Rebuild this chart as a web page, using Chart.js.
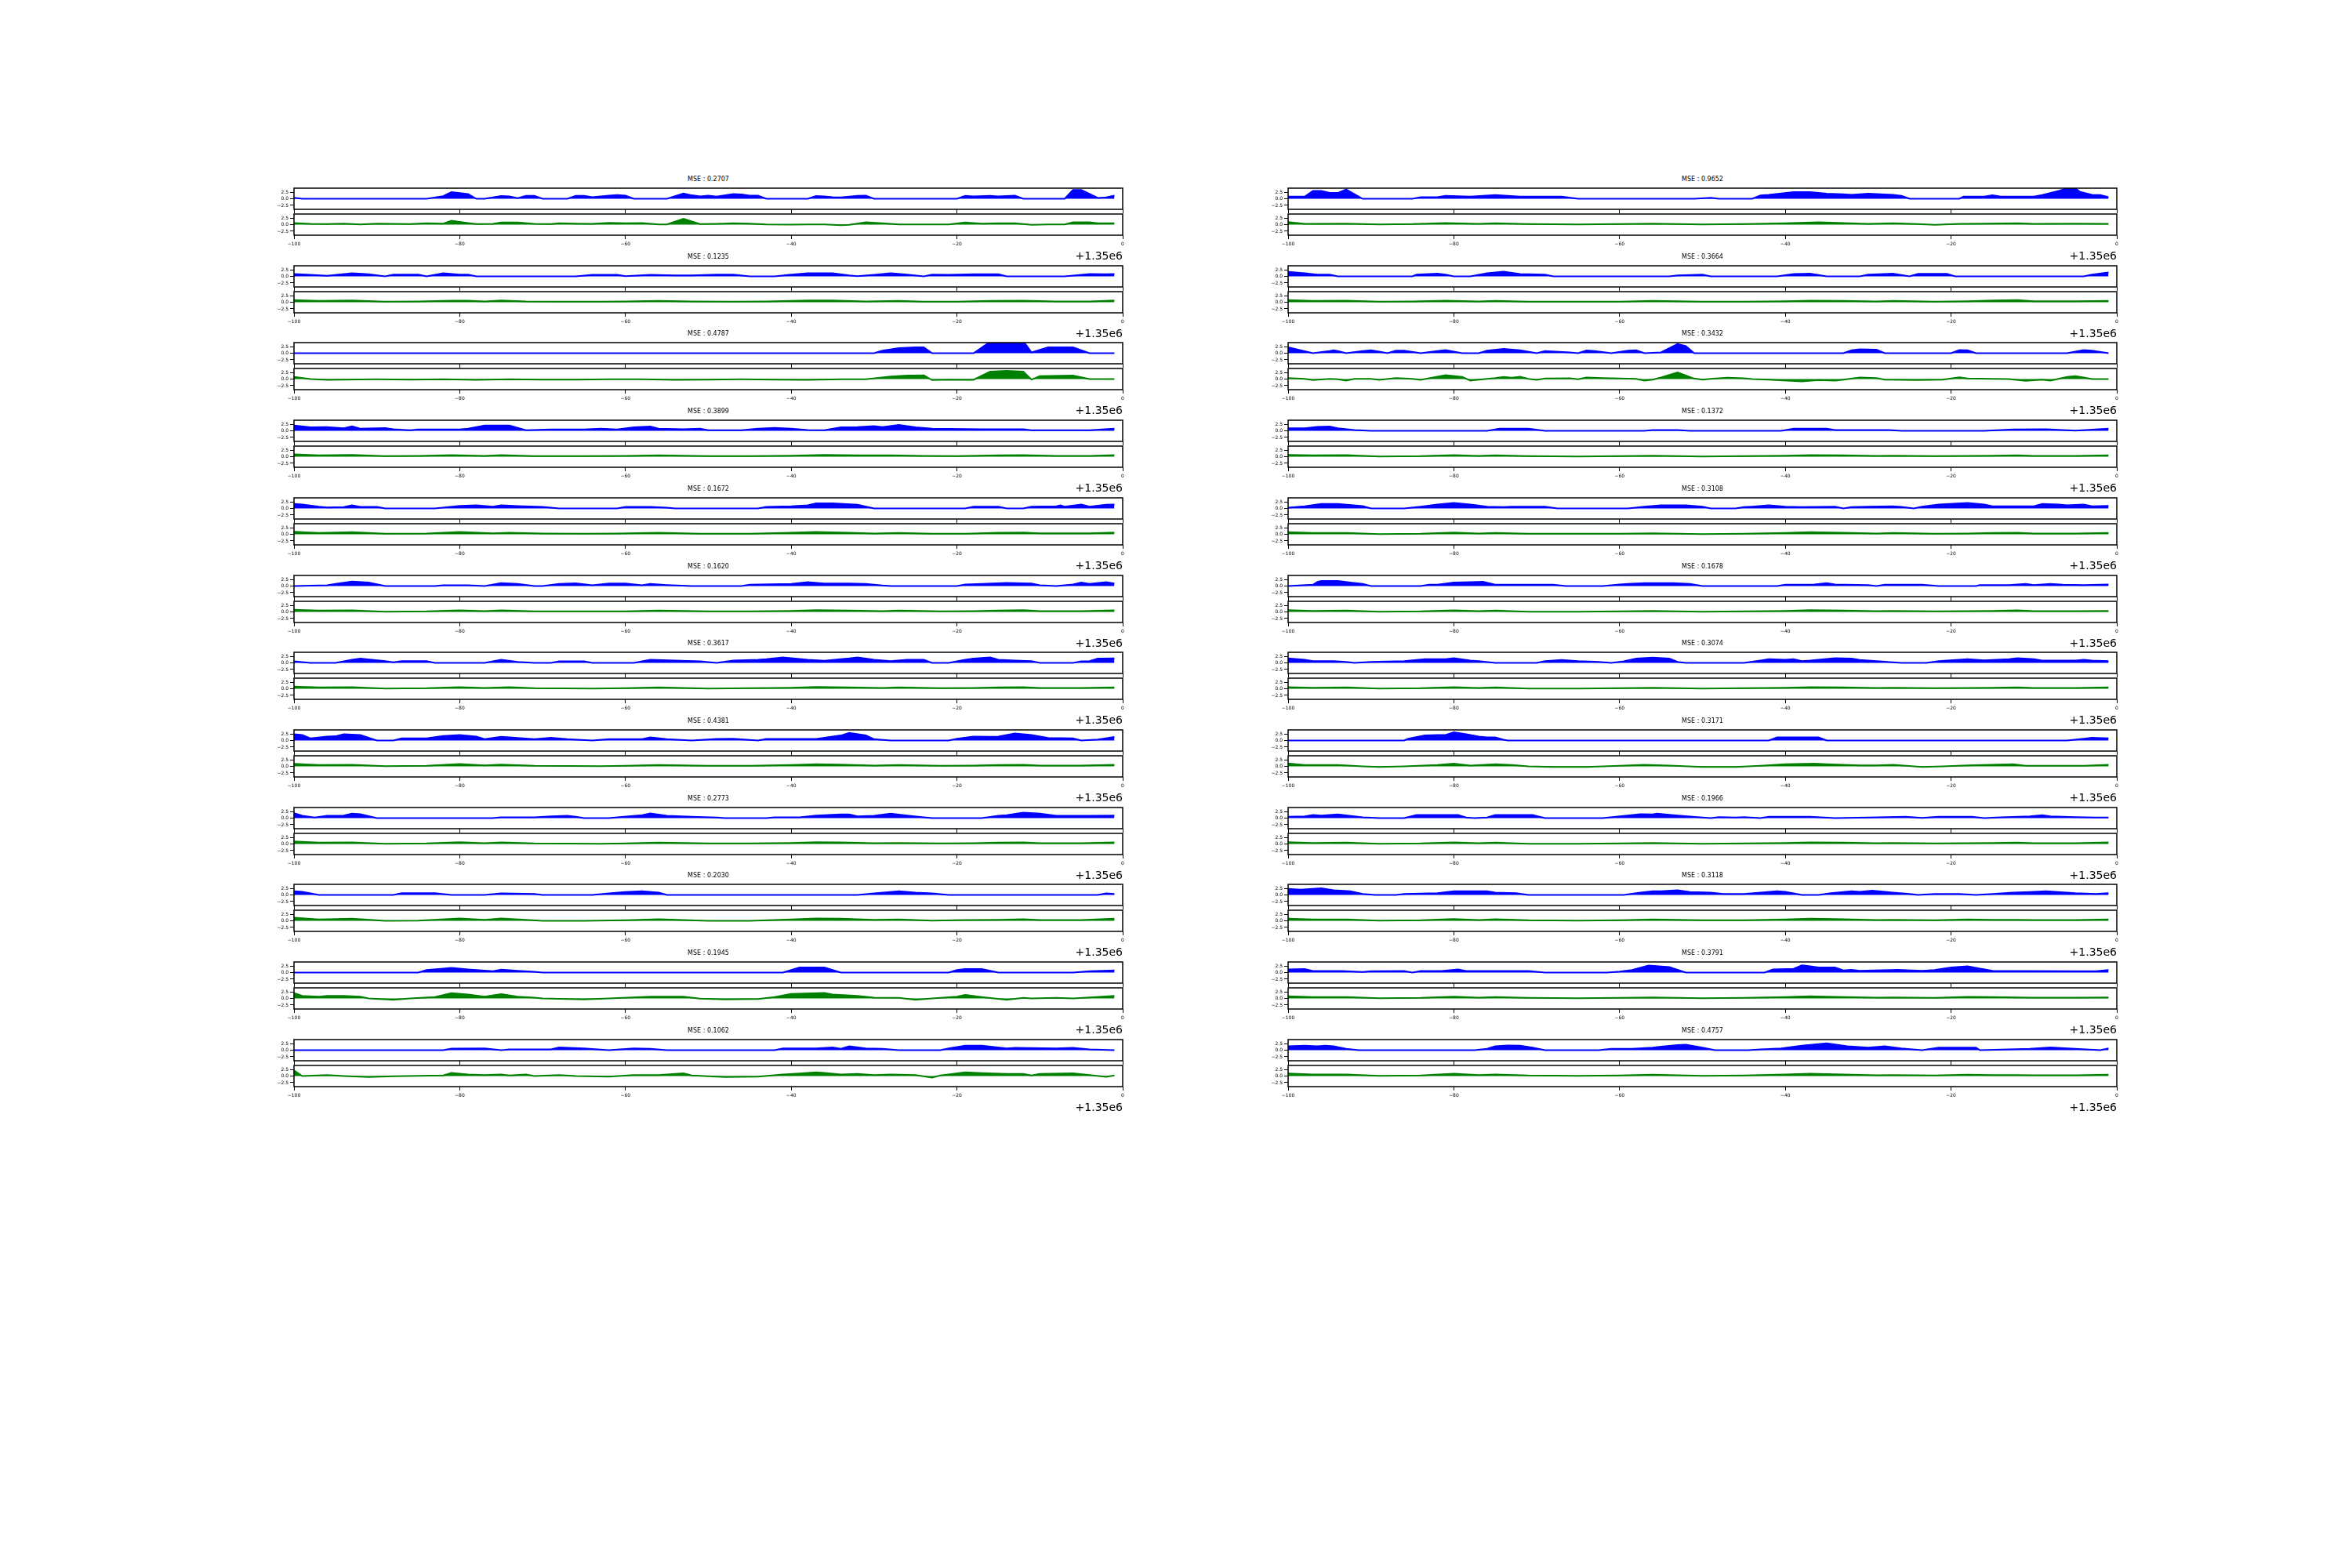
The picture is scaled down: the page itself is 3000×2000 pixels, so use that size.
<!DOCTYPE html>
<html><head><meta charset="utf-8">
<script src="https://cdn.jsdelivr.net/npm/chart.js@4.4.1/dist/chart.umd.min.js"></script>
<style>
html,body{margin:0;padding:0;background:#fff;}
#fig{position:relative;width:3000px;height:2000px;overflow:hidden;background:#fff;}
#fig canvas{position:absolute;}
.ttl{position:absolute;font-family:'DejaVu Sans';font-size:8px;line-height:1;color:#000;transform:translate(-50%,-50%);white-space:nowrap;}
.off{position:absolute;font-family:'DejaVu Sans';font-size:14px;line-height:1;color:#000;transform:translate(-100%,-50%);white-space:nowrap;}
</style></head><body><div id="fig"></div>
<script>
// ---------------- data ----------------
const xTickValues = [-100, -80, -60, -40, -20, 0];
const yTickValues = [-2.5, 0, 2.5];
const mseLeft  = ['0.2707','0.1235','0.4787','0.3899','0.1672','0.1620','0.3617','0.4381','0.2773','0.2030','0.1945','0.1062'];
const mseRight = ['0.9652','0.3664','0.3432','0.1372','0.3108','0.1678','0.3074','0.3171','0.1966','0.3118','0.3791','0.4757'];
const offsetLabel = '+1.35e6';

// left column, blue (top) series: [x, y]
const blueL1 = [[-100,0.4],[-99,0],[-84,0],[-82,1.0],[-81,2.5],[-79,1.8],[-78,0],[-77,0],[-75,1.0],[-74,0.9],[-73,0.2],[-72,1.1],[-71,1.1],[-70,0],[-67,0],[-66,1.1],[-65,1.1],[-64,0.6],[-62,1.2],[-61,1.4],[-60,1.2],[-59,0],[-55,0],[-53,2.0],[-52,1.3],[-51,0.9],[-50,1.2],[-49,0.8],[-47,1.8],[-46,1.6],[-45,1.2],[-44,1.2],[-43,0],[-38,0],[-37,1.0],[-36,0.9],[-35,0.6],[-34,0.5],[-32,1.1],[-31,1.2],[-30,0],[-20,0],[-19,1.1],[-18,0.9],[-16,1.1],[-15,0.9],[-13,1.2],[-12,0],[-7,0],[-6,3.3],[-5,3.3],[-3,0.3],[-2,0.5],[-1,1.2]];
const blueL2 = [[-100,0.9],[-98,0.6],[-96,0.2],[-93,1.2],[-91,0.8],[-89,0],[-88,0.7],[-85,0.7],[-84,0],[-82,1.2],[-80,0.7],[-79,0.7],[-78,0],[-66,0],[-64,0.6],[-61,0.6],[-60,0.1],[-57,0.6],[-54,0.4],[-52,0.4],[-49,0.7],[-47,0.7],[-45,0],[-42,0],[-40,0.7],[-38,1.2],[-35,1.2],[-33,0.4],[-32,0.1],[-30,0.6],[-28,1.2],[-26,0.7],[-24,0],[-23,0.7],[-21,0.6],[-18,0.8],[-17,0.8],[-15,0.8],[-14,0],[-7,0],[-5,0.6],[-4,0.9],[-2,0.8],[-1,0.9]];
const blueL3 = [[-100,0],[-30,0],[-29,1.0],[-27,1.9],[-25,2.2],[-24,2.2],[-23,0],[-18,0],[-16,4.3],[-14,5.0],[-12,4.6],[-11,0.3],[-9,2.2],[-6,2.2],[-4,0],[-1,0]];
const blueL4 = [[-100,2.0],[-98,1.3],[-96,1.4],[-94,1.0],[-93,1.7],[-92,0.8],[-89,1.0],[-88,0.6],[-86,0.2],[-85,0.5],[-80,0.5],[-79,0.8],[-77,2.0],[-74,2.0],[-72,0.2],[-69,0.5],[-65,0.5],[-63,0.8],[-61,0.5],[-59,1.3],[-57,1.6],[-56,0.8],[-53,0.6],[-51,0.8],[-50,0.2],[-46,0.2],[-44,0.8],[-42,1.1],[-40,0.8],[-38,0.3],[-36,0.2],[-34,1.3],[-32,1.4],[-30,1.8],[-29,1.4],[-27,2.2],[-25,1.3],[-23,0.8],[-17,0.6],[-12,0.6],[-11,0.2],[-4,0.2],[-1,0.8]];
const blueL5 = [[-100,1.7],[-99,1.5],[-97,0.7],[-96,0.4],[-94,0.5],[-93,1.2],[-92,0.6],[-90,0.6],[-89,0],[-83,0],[-80,1.0],[-78,1.2],[-76,0.7],[-75,1.2],[-73,0.9],[-70,0.6],[-69,0.3],[-68,0],[-61,0],[-60,0.6],[-57,0.6],[-55,0.3],[-54,0],[-44,0],[-43,0.6],[-40,0.8],[-38,1.2],[-37,1.9],[-35,1.9],[-32,1.4],[-30,0],[-19,0],[-18,0.7],[-15,0.7],[-14,0],[-12,0],[-11,0.7],[-8,0.8],[-7.5,1.2],[-7,0.7],[-5,1.5],[-4,0.7],[-2,1.4],[-1,1.5]];
const blueL6 = [[-100,0],[-96,0.3],[-95,0.8],[-93,1.7],[-91,1.3],[-89,0],[-83,0],[-82,0.3],[-79,0.3],[-77,0],[-75,1.1],[-73,0.8],[-71,0],[-70,0],[-68,0.8],[-66,1.0],[-64,0.3],[-62,1.0],[-60,1.0],[-58,0.3],[-57,0.8],[-55,0.4],[-52,0],[-46,0],[-45,0.5],[-40,0.8],[-38,1.5],[-36,1.0],[-33,1.0],[-31,0.8],[-29,0.2],[-28,0],[-20,0],[-19,0.6],[-17,0.8],[-14,1.2],[-11,1.0],[-10,0.3],[-8,0],[-6,0.6],[-5,1.3],[-4,0.8],[-2,1.5],[-1,1.0]];
const blueL7 = [[-100,0.6],[-98,0],[-95,0],[-93,1.2],[-92,1.6],[-89,0.7],[-88,0.2],[-87,0.7],[-84,0.7],[-83,0],[-77,0],[-75,1.2],[-73,0.4],[-71,0],[-69,0],[-68,0.6],[-65,0.6],[-64,0],[-59,0],[-57,1.2],[-54,0.9],[-51,0.6],[-49,0],[-47,0.9],[-44,1.2],[-43,1.4],[-41,2.1],[-38,1.2],[-36,0.8],[-33,1.7],[-32,2.1],[-30,1.2],[-28,0.7],[-26,1.2],[-24,1.2],[-23,0],[-21,0],[-19,1.2],[-18,1.6],[-16,2.1],[-15,1.2],[-13,0.9],[-11,0.7],[-10,0],[-6,0],[-5,0.6],[-4,0.7],[-3,1.6],[-1,1.7]];
const blueL8 = [[-100,2.4],[-99,2.1],[-98,0.8],[-96,1.5],[-95,1.6],[-94,2.4],[-92,2.1],[-90,0],[-88,0],[-87,0.8],[-84,0.8],[-82,1.7],[-80,2.1],[-78,1.5],[-77,0.5],[-75,1.4],[-73,1.0],[-71,0.5],[-69,1.0],[-67,0.5],[-64,0],[-62,0.5],[-58,0.5],[-57,1.2],[-55,0.5],[-52,0],[-49,0.6],[-47,0.7],[-44,0],[-43,0.6],[-37,0.6],[-34,1.9],[-33,2.9],[-31,1.9],[-30,0.5],[-28,0],[-21,0],[-20,0.7],[-18,1.5],[-16,1.4],[-15,1.5],[-13,2.7],[-11,2.1],[-9,1.0],[-6,0.8],[-5,0],[-3,0.4],[-1,1.3]];
const blueL9 = [[-100,1.9],[-99,0.9],[-97.5,0.2],[-96,0.9],[-94,1.0],[-93,1.7],[-92,1.5],[-90,0],[-76,0],[-75,0.3],[-71,0.3],[-69,0.7],[-67,0.9],[-66,0.5],[-65,0],[-62,0],[-61,0.3],[-58,1.1],[-57,1.8],[-55,0.9],[-52,0.5],[-49,0.2],[-48,0],[-43,0],[-42,0.3],[-39,0.3],[-37,1.0],[-34,1.4],[-33,1.4],[-32,0.7],[-30,0.9],[-28,1.7],[-26,1.0],[-24,0.3],[-23,0],[-17,0],[-15,0.9],[-14,1.1],[-12,2.1],[-10,1.7],[-8,0.9],[-4,0.9],[-1,1.0]];
const blueL10 = [[-100,1.4],[-99,1.2],[-97,0],[-88,0],[-87,0.7],[-83,0.7],[-81,0],[-77,0],[-75,0.6],[-71,0.4],[-70,0],[-64,0],[-62,0.6],[-60,1.1],[-58,1.4],[-56,0.9],[-55,0],[-32,0],[-30,0.6],[-27,1.4],[-25,0.9],[-23,0.6],[-21,0],[-3,0],[-2,0.6],[-1,0.4]];
const blueL11 = [[-100,0],[-85,0],[-84,1.0],[-82,1.5],[-81,1.8],[-79,1.2],[-76,0.5],[-75,1.1],[-73,0.7],[-71,0.3],[-70,0],[-41,0],[-40,1.0],[-39,1.9],[-36,1.9],[-34,0],[-21,0],[-20,1.0],[-19,1.3],[-17,1.3],[-16,0.7],[-15,0],[-6,0],[-4,0.5],[-1,0.8]];
const blueL12 = [[-100,0],[-82,0],[-81,0.6],[-77,0.7],[-75,0],[-74,0.3],[-69,0.3],[-68,1.0],[-65,0.7],[-62,0],[-59,0.7],[-57,0.5],[-55,0],[-42,0],[-41,0.7],[-37,0.7],[-35,1.0],[-34,0.5],[-33,1.5],[-31,0.7],[-29,0.5],[-27,0],[-22,0],[-21,0.7],[-19,1.7],[-17,1.7],[-14,0.7],[-13,0.9],[-8,0.7],[-6,0.9],[-4,0.3],[-1,0]];

// left column, green (bottom) series
const greenL1 = [[-100,0.6],[-98,0.3],[-96,0.2],[-94,0.4],[-92,0.1],[-90,0.4],[-88,0.3],[-86,0.2],[-84,0.5],[-82,0.4],[-81,1.5],[-79,0.6],[-78,0.2],[-76,0.3],[-75,0.8],[-73,0.8],[-71,0.3],[-69,0.2],[-68,0.5],[-66,0.4],[-64,0.3],[-62,0.7],[-60,0.5],[-58,0.6],[-56,0.1],[-55,0.1],[-53,2.2],[-51,0.2],[-49,0.3],[-47,0.5],[-45,0.4],[-43,0.1],[-40,0.0],[-38,0.1],[-36,0.1],[-34,-0.2],[-33,-0.1],[-31,0.9],[-29,0.5],[-27,0.1],[-23,0.1],[-21,0.1],[-19,0.8],[-17,0.4],[-15,0.5],[-13,0.5],[-11,-0.1],[-9,0.1],[-7,0.1],[-6,0.9],[-4,0.9],[-3,0.5],[-1,0.5]];
const greenL2 = [[-100,0.8],[-97,0.5],[-93,0.7],[-89,0.2],[-85,0.3],[-81,0.6],[-79,0.6],[-77,0.3],[-75,0.7],[-72,0.3],[-68,0.2],[-63,0.2],[-60,0.3],[-56,0.5],[-52,0.3],[-47,0.2],[-43,0.3],[-38,0.7],[-35,0.7],[-31,0.3],[-27,0.5],[-24,0.2],[-20,0.2],[-16,0.5],[-12,0.6],[-8,0.3],[-4,0.3],[-1,0.7]];
const greenL3 = [[-100,0.8],[-98,0.0],[-96,-0.3],[-94,-0.2],[-90,-0.1],[-86,-0.2],[-82,-0.1],[-78,-0.3],[-74,-0.1],[-70,-0.2],[-66,-0.2],[-62,-0.1],[-58,-0.1],[-54,-0.3],[-50,-0.2],[-46,-0.1],[-42,-0.2],[-38,-0.3],[-34,-0.1],[-31,-0.1],[-28,1.0],[-26,1.3],[-24,1.4],[-23,-0.4],[-21,-0.2],[-18,-0.3],[-16,2.8],[-14,3.1],[-12,2.8],[-11,-0.2],[-10,1.1],[-6,1.3],[-4,0.0],[-1,0.0]];
const greenL4 = [[-100,0.9],[-97,0.5],[-93,0.7],[-89,0.2],[-85,0.3],[-81,0.6],[-77,0.3],[-75,0.6],[-71,0.2],[-65,0.2],[-60,0.3],[-56,0.5],[-50,0.2],[-45,0.2],[-40,0.4],[-36,0.7],[-32,0.5],[-28,0.5],[-24,0.3],[-20,0.2],[-15,0.5],[-12,0.6],[-8,0.3],[-4,0.3],[-1,0.6]];
const greenL5 = [[-100,1.0],[-97,0.5],[-93,0.8],[-89,0.2],[-84,0.3],[-80,0.9],[-76,0.4],[-74,0.6],[-70,0.3],[-65,0.2],[-61,0.3],[-56,0.6],[-51,0.2],[-45,0.2],[-41,0.5],[-37,0.9],[-33,0.6],[-30,0.3],[-27,0.5],[-23,0.2],[-19,0.2],[-15,0.6],[-12,0.7],[-10,0.4],[-4,0.4],[-1,0.7]];
const greenL6 = [[-100,0.8],[-97,0.5],[-93,0.6],[-89,0.1],[-84,0.2],[-80,0.6],[-77,0.3],[-75,0.6],[-71,0.2],[-63,0.2],[-60,0.2],[-56,0.5],[-50,0.2],[-45,0.2],[-40,0.4],[-37,0.7],[-33,0.5],[-29,0.3],[-27,0.5],[-22,0.2],[-18,0.3],[-15,0.5],[-12,0.7],[-10,0.3],[-5,0.3],[-1,0.6]];
const greenL7 = [[-100,0.8],[-97,0.5],[-93,0.6],[-89,0.1],[-84,0.2],[-80,0.6],[-77,0.3],[-74,0.6],[-71,0.2],[-64,0.1],[-60,0.2],[-56,0.5],[-50,0.1],[-45,0.2],[-40,0.4],[-37,0.7],[-33,0.5],[-29,0.3],[-27,0.5],[-22,0.2],[-18,0.3],[-15,0.5],[-12,0.6],[-10,0.3],[-5,0.3],[-1,0.5]];
const greenL8 = [[-100,1.0],[-97,0.5],[-93,0.6],[-89,0.1],[-84,0.2],[-80,0.9],[-77,0.4],[-75,0.7],[-71,0.2],[-63,0.1],[-60,0.2],[-56,0.5],[-50,0.2],[-45,0.2],[-40,0.5],[-37,0.8],[-34,0.7],[-30,0.3],[-27,0.5],[-22,0.2],[-18,0.3],[-15,0.5],[-12,0.6],[-10,0.3],[-5,0.3],[-1,0.6]];
const greenL9 = [[-100,1.0],[-97,0.5],[-93,0.6],[-89,0.1],[-84,0.2],[-80,0.7],[-77,0.3],[-75,0.6],[-71,0.2],[-63,0.1],[-60,0.2],[-56,0.5],[-50,0.2],[-45,0.2],[-40,0.4],[-37,0.7],[-34,0.6],[-30,0.3],[-27,0.4],[-22,0.2],[-18,0.3],[-15,0.5],[-12,0.6],[-10,0.3],[-5,0.3],[-1,0.6]];
const greenL10 = [[-100,1.2],[-97,0.5],[-93,0.8],[-89,0.0],[-85,0.1],[-80,0.9],[-77,0.4],[-75,0.9],[-72,0.4],[-70,0.0],[-65,0.0],[-60,0.2],[-56,0.6],[-50,0.0],[-45,0.0],[-40,0.5],[-37,0.9],[-34,0.8],[-30,0.4],[-27,0.5],[-23,0.1],[-19,0.3],[-15,0.4],[-12,0.6],[-10,0.3],[-5,0.3],[-1,0.8]];
const greenL11 = [[-100,2.0],[-99,1.0],[-97,0.7],[-96,1.0],[-94,1.0],[-92,0.7],[-91,0],[-88,-0.5],[-86,0],[-83,0.5],[-81,2.0],[-79,1.5],[-77,0.7],[-75,1.6],[-73,0.7],[-71,0.3],[-70,0],[-65,-0.4],[-62,0],[-57,0.7],[-53,0.7],[-51,-0.1],[-48,-0.4],[-44,-0.2],[-42,0.5],[-40,1.7],[-36,2.1],[-35,1.5],[-32,1.0],[-30,0.3],[-27,0.2],[-25,-0.5],[-23,0],[-20,0.7],[-19,1.3],[-17,0.5],[-14,-0.5],[-12,0.2],[-11,0],[-8,0.2],[-6,0],[-4,0.4],[-1,1.0]];
const greenL12 = [[-100,2.1],[-99,0],[-96,0.4],[-94,0],[-91,-0.4],[-88,-0.1],[-82,0.2],[-81,1.2],[-79,0.6],[-77,0.4],[-75,0.6],[-74,0.2],[-72,0.6],[-71,0],[-68,0.4],[-66,0],[-62,-0.2],[-59,0.4],[-56,0.4],[-53,1.0],[-52,0.2],[-48,-0.4],[-44,-0.2],[-41,0.6],[-39,1.0],[-37,1.4],[-36,1.2],[-34,0.6],[-32,0.8],[-30,0.4],[-28,0.6],[-25,0.4],[-23,-0.6],[-22,0.2],[-19,1.4],[-17,1.1],[-14,0.8],[-12,0.8],[-11,0.2],[-10,0.8],[-6,1.0],[-4,0.4],[-2,-0.3],[-1,0.2]];

// right column, blue (top) series
const blueR1 = [[-100,0.8],[-98,0.8],[-97,3.0],[-96,3.0],[-95,2.2],[-94,2.2],[-93,3.5],[-91,0],[-85,0],[-84,0.6],[-82,0.6],[-81,1.1],[-78,0.8],[-75,1.4],[-72,0.8],[-67,0.8],[-65,0],[-51,0],[-49,0.4],[-48,0],[-44,0],[-43,1.3],[-42,1.5],[-39,2.5],[-37,2.5],[-35,1.9],[-33,1.7],[-32,1.5],[-30,1.9],[-27,1.5],[-26,1.1],[-25,0],[-19,0],[-18.5,0.8],[-16,0.8],[-15,1.3],[-14,0.8],[-10,0.8],[-9,1.4],[-7,3.0],[-6,4.0],[-5,4.0],[-4.5,2.7],[-3,1.5],[-2,1.4],[-1,0.6]];
const blueR2 = [[-100,1.7],[-98,1.2],[-96.5,0.7],[-95,0.7],[-94,0],[-85,0],[-84.5,0.7],[-82,1.0],[-81,0.7],[-80,0],[-78,0],[-76,1.2],[-74,1.8],[-72,0.9],[-69,0.7],[-68,0],[-54,0],[-53,0.4],[-50,0.7],[-49,0],[-41,0],[-39,0.9],[-37,1.0],[-35,0],[-31,0],[-30,0.7],[-27,1.0],[-25,0],[-24,1.0],[-20.5,1.0],[-19.5,0],[-4,0],[-3,0.7],[-1,1.5]];
const blueR3 = [[-100,2.2],[-99,1.5],[-97,0],[-95,0.8],[-94.5,1.1],[-94,0.8],[-93,0],[-91,0.8],[-90,1.1],[-89,0.6],[-88,0],[-87,1.0],[-86,1.0],[-84,0],[-82,0.8],[-81,1.2],[-79,0],[-77,0],[-76,1.0],[-74,1.6],[-72,1.1],[-70,0],[-69,0.8],[-66,0.3],[-65,0],[-64,1.0],[-63,0.8],[-61,0],[-59,1.0],[-58,1.1],[-57,0],[-55,0.3],[-53.5,2.7],[-53,3.5],[-52,2.7],[-51,0],[-33,0],[-32,1.1],[-31,1.5],[-29,1.3],[-28,0],[-20,0],[-19,1.2],[-18,1.1],[-17,0],[-6,0],[-4,1.2],[-3,1.0],[-1,0]];
const blueR4 = [[-100,1.0],[-98,1.0],[-96.5,1.5],[-95,1.6],[-94,1.0],[-92,0.3],[-90,0],[-76,0],[-74.5,0.8],[-71,0.8],[-69,0],[-57,0],[-56,0.3],[-53,0.3],[-51.5,0],[-40.5,0],[-39,0.8],[-35,0.8],[-34,0.3],[-27.5,0.3],[-26,0],[-16,0],[-12.5,0.5],[-8.5,0.6],[-5,0.1],[-1,0.8]];
const blueR5 = [[-100,0.3],[-98,0.8],[-96,1.7],[-94,1.7],[-91,0.9],[-90,0],[-86,0],[-84,0.7],[-82,1.5],[-80,2.1],[-78,1.5],[-76,0.7],[-74,0.5],[-73,0.7],[-69,0.7],[-67.5,0],[-59,0],[-57,0.7],[-55,1.2],[-52,1.2],[-50,0.7],[-49,0],[-46,0],[-45,0.5],[-44,0.7],[-42,1.2],[-40,0.7],[-38,0.5],[-34,0.7],[-33,0],[-32,0.5],[-30,0.7],[-27,0.8],[-26,0.6],[-24.5,0],[-23.5,0.7],[-21.5,1.5],[-18,2.1],[-16,1.5],[-15,0.8],[-10,0.8],[-9,1.7],[-7,1.5],[-6,1.2],[-4,1.5],[-3,0.8],[-1,1.0]];
const blueR6 = [[-100,0],[-97,0.5],[-96.5,1.5],[-96,1.9],[-94,1.9],[-92.5,1.3],[-91,0.8],[-90,0],[-84,0],[-83,0.5],[-82,0.5],[-80,1.3],[-78,1.5],[-76.5,1.6],[-75,0.5],[-68,0.5],[-66.5,0],[-62,0],[-60,0.6],[-59,0.8],[-57,1.1],[-53.5,1.1],[-51.5,0.8],[-50,0],[-41,0],[-40,0.5],[-36.5,0.6],[-35,1.1],[-34,0.6],[-30,0.4],[-29,0],[-28,0.5],[-23.5,0.5],[-21.5,0],[-17,0],[-16.5,0.4],[-13,0.4],[-11,0.8],[-10,0.4],[-8,0.8],[-6.5,0.5],[-4,0.4],[-1,0.6]];
const blueR7 = [[-100,1.7],[-98,1.2],[-97,0.7],[-94.5,0.7],[-93,0.4],[-92,0],[-90,0.4],[-86,0.7],[-83.5,1.4],[-81,1.4],[-80,1.8],[-78,0.9],[-77,0.7],[-75,0],[-70,0],[-69,0.7],[-67,1.1],[-65,0.7],[-62.5,0.4],[-61,0],[-59.5,0.6],[-58,1.6],[-56,2.0],[-54,1.6],[-53,0.4],[-52,0],[-45,0],[-43,0.9],[-42,1.4],[-40,1.2],[-39,1.4],[-38,0.7],[-37,0.9],[-34,1.8],[-32,1.6],[-31,1.1],[-29,0.7],[-26,0],[-23,0],[-21.5,0.7],[-18,1.4],[-16,1.0],[-13,1.4],[-12,1.8],[-10,1.4],[-9,0.9],[-5,0.9],[-4,1.2],[-3,0.9],[-1,0.7]];
const blueR8 = [[-100,0],[-86,0],[-85.5,0.7],[-83.5,1.9],[-82,2.1],[-81,2.1],[-80,3.1],[-78.5,2.4],[-77,1.5],[-76,1.2],[-75,1.2],[-74,0.3],[-73.5,0],[-42,0],[-41,1.2],[-36,1.2],[-35,0],[-6,0],[-4,0.7],[-3,1.0],[-1,0.8]];
const blueR9 = [[-100,0.5],[-98,0.7],[-97,1.2],[-96,1.0],[-94,1.4],[-92,0.7],[-91,0.3],[-89,0],[-86,0],[-84.5,1.2],[-79.5,1.2],[-78.5,0.2],[-77.5,0],[-76,0.2],[-75,1.2],[-70.5,1.2],[-69,0],[-62,0],[-60,0.7],[-57.5,1.5],[-56,1.4],[-55.5,1.7],[-53.5,1.1],[-50,0.2],[-49,0],[-48,0.4],[-46,0.2],[-45,0.4],[-43,0],[-42,0.5],[-37,0.5],[-34,0],[-30,0.2],[-25.5,0.5],[-23.5,0.1],[-21.5,0.5],[-17.5,0.5],[-16,0],[-14,0.3],[-10.5,0.7],[-9,1.1],[-8,0.7],[-5,0.4],[-2.5,0.2],[-1,0.2]];
const blueR10 = [[-100,2.3],[-98.5,2.0],[-96,2.5],[-94.5,1.8],[-92.5,1.4],[-91,0.4],[-89.5,0],[-87,0],[-86,0.4],[-82,0.7],[-80,1.4],[-76,1.4],[-75,0.9],[-72.5,0.7],[-71,0],[-59.5,0],[-57.5,0.9],[-56,1.4],[-55,1.4],[-53,1.8],[-51.5,1.1],[-49,0.9],[-47.5,0.4],[-45,0.4],[-43,0.9],[-41,1.4],[-40,1.2],[-38,0],[-36,0],[-34.5,0.7],[-32,1.4],[-31,1.2],[-29.5,1.6],[-27,0.9],[-25,0.4],[-24,0],[-22,0.4],[-19,0.4],[-17,0],[-15,0.4],[-12.5,0.9],[-10.5,1.1],[-8.5,1.4],[-5,0.7],[-2.5,0.4],[-1,0.7]];
const blueR11 = [[-100,1.2],[-98,1.3],[-97,0.6],[-93.5,0.6],[-92,0.4],[-91,0.2],[-90,0.5],[-86,0.6],[-85,0],[-84,0.6],[-81.5,0.6],[-79.5,1.2],[-78.5,0.6],[-71,0.6],[-69,0],[-61.5,0],[-60,0.4],[-58.5,1.0],[-56.5,2.7],[-54,2.1],[-52,0],[-42.5,0],[-41.5,1.2],[-39,1.4],[-38,2.7],[-37,2.4],[-36,1.9],[-34,1.9],[-33,0.8],[-32,1.0],[-31,0.7],[-26.5,1.0],[-23.5,0.7],[-22,1.0],[-20,1.9],[-18,2.4],[-16.5,1.5],[-15,0.7],[-12.5,0.6],[-5,0.5],[-2.5,0.5],[-1,1.0]];
const blueR12 = [[-100,1.5],[-98,1.7],[-96.5,1.5],[-95.5,1.7],[-94.5,1.5],[-93,0.5],[-91.5,0],[-77.5,0],[-76,0.5],[-75,1.5],[-73.5,1.8],[-72,1.7],[-70.5,1.0],[-69,0],[-62.5,0],[-61,0.5],[-58.5,0.5],[-56,1.0],[-55,1.3],[-53,1.9],[-52,2.1],[-50,1.0],[-48.5,0],[-44.5,0],[-43,0.3],[-40.5,0.7],[-38,1.7],[-35,2.6],[-32.5,1.5],[-30,1.0],[-28,1.5],[-26,0.7],[-23.5,0],[-21.5,1.0],[-17,1.0],[-16.5,0],[-10.5,0.5],[-8,1.0],[-5,0.5],[-2,0],[-1,0.7]];

// right column, green (bottom) series
const greenR1 = [[-100,1.0],[-98,0.3],[-93,0.4],[-89,0.1],[-85,0.2],[-81,0.6],[-77,0.3],[-75,0.5],[-71,0.2],[-65,0.1],[-60,0.2],[-56,0.4],[-50,0.1],[-45,0.2],[-40,0.5],[-36,0.9],[-33,0.6],[-30,0.3],[-27,0.5],[-24,0.2],[-22,-0.1],[-19,0.3],[-16,0.4],[-12,0.5],[-10,0.3],[-5,0.4],[-1,0.3]];
const greenR2 = [[-100,0.8],[-97,0.5],[-93,0.6],[-89,0.2],[-85,0.3],[-81,0.6],[-77,0.3],[-75,0.5],[-71,0.2],[-65,0.2],[-60,0.2],[-56,0.5],[-50,0.2],[-45,0.2],[-40,0.4],[-37,0.6],[-33,0.5],[-29,0.3],[-27,0.5],[-22,0.2],[-18,0.4],[-15,0.7],[-12,0.8],[-10,0.4],[-5,0.4],[-1,0.5]];
const greenR3 = [[-100,0.4],[-98,0.1],[-97,-0.4],[-95,0.1],[-94,-0.1],[-93,-0.6],[-92,0.1],[-90,0.1],[-89,-0.3],[-87,0.4],[-85,0.1],[-84,-0.3],[-82.5,0.6],[-81,1.5],[-79,0.8],[-78,-0.6],[-77,-0.2],[-75,0.4],[-74,0.8],[-73,0.5],[-72,0.9],[-71,0.1],[-70,-0.3],[-69,0.2],[-66,0.3],[-65,-0.1],[-64,0.6],[-62,0.4],[-60,0.2],[-58,0.1],[-57,-0.6],[-56,-0.2],[-55,0.6],[-53,2.5],[-51,0.2],[-50,-0.2],[-49,0.1],[-47,0.5],[-45,0.3],[-44,0],[-42,-0.2],[-38,-0.9],[-36,-0.4],[-34,-0.6],[-33,-0.2],[-31,0.6],[-29,0.4],[-28,-0.2],[-24,-0.4],[-21,-0.2],[-19,0.7],[-18,0.2],[-15,0.1],[-13,0],[-11,-0.7],[-9,-0.2],[-8,-0.6],[-6,0.8],[-5,1.1],[-4,0.6],[-3,0],[-1,0]];
const greenR4 = [[-100,0.7],[-97,0.5],[-93,0.6],[-89,0.1],[-84,0.2],[-80,0.6],[-77,0.3],[-75,0.5],[-71,0.2],[-65,0.1],[-60,0.2],[-56,0.4],[-50,0.1],[-45,0.2],[-40,0.4],[-37,0.6],[-33,0.5],[-29,0.3],[-27,0.4],[-22,0.2],[-18,0.3],[-15,0.4],[-12,0.5],[-10,0.3],[-5,0.3],[-1,0.5]];
const greenR5 = [[-100,0.8],[-97,0.5],[-93,0.5],[-89,0.1],[-84,0.2],[-80,0.7],[-77,0.3],[-75,0.5],[-71,0.2],[-65,0.2],[-60,0.2],[-56,0.4],[-50,0.1],[-45,0.2],[-40,0.5],[-37,0.8],[-33,0.6],[-29,0.3],[-27,0.5],[-22,0.2],[-18,0.3],[-15,0.5],[-12,0.6],[-10,0.3],[-5,0.3],[-1,0.5]];
const greenR6 = [[-100,0.7],[-97,0.4],[-93,0.5],[-89,0.1],[-84,0.2],[-80,0.6],[-77,0.3],[-75,0.5],[-71,0.1],[-65,0.1],[-60,0.2],[-56,0.4],[-50,0.1],[-45,0.2],[-40,0.4],[-37,0.7],[-33,0.5],[-29,0.3],[-27,0.4],[-22,0.2],[-18,0.3],[-15,0.4],[-12,0.6],[-10,0.3],[-5,0.3],[-1,0.4]];
const greenR7 = [[-100,0.6],[-97,0.4],[-93,0.5],[-89,0.1],[-84,0.2],[-80,0.6],[-77,0.3],[-75,0.5],[-71,0.1],[-65,0.1],[-60,0.2],[-56,0.4],[-50,0.1],[-45,0.2],[-40,0.4],[-37,0.6],[-33,0.5],[-29,0.3],[-27,0.4],[-22,0.2],[-18,0.3],[-15,0.4],[-12,0.5],[-10,0.3],[-5,0.3],[-1,0.5]];
const greenR8 = [[-100,1.1],[-98,0.5],[-94,0.5],[-91,0],[-89,-0.2],[-86,0],[-82,0.5],[-80,1.0],[-78,0.3],[-75,0.8],[-73,0.5],[-71,0],[-68,-0.2],[-64,-0.2],[-60,0.2],[-57,0.6],[-54,0.3],[-50,-0.2],[-46,-0.2],[-43,0.2],[-40,0.8],[-36.5,1.0],[-35,0.8],[-31,0.4],[-29,0.4],[-27,0.6],[-23.5,-0.2],[-21,0],[-18,0.4],[-12.5,0.8],[-11,0.2],[-7,0.2],[-4,0.2],[-1,0.6]];
const greenR9 = [[-100,0.7],[-97,0.4],[-93,0.5],[-89,0.1],[-84,0.2],[-80,0.6],[-77,0.3],[-75,0.5],[-71,0.1],[-65,0.1],[-60,0.2],[-56,0.4],[-50,0.1],[-45,0.2],[-40,0.4],[-37,0.6],[-33,0.5],[-29,0.3],[-27,0.4],[-22,0.2],[-18,0.3],[-15,0.4],[-12,0.5],[-10,0.3],[-5,0.3],[-1,0.6]];
const greenR10 = [[-100,0.8],[-97,0.5],[-93,0.5],[-89,0.1],[-84,0.2],[-80,0.7],[-77,0.3],[-75,0.6],[-71,0.2],[-65,0.1],[-60,0.2],[-56,0.5],[-50,0.2],[-45,0.2],[-40,0.5],[-37,0.8],[-34,0.7],[-29,0.3],[-27,0.4],[-22,0.2],[-18,0.5],[-15,0.4],[-12,0.4],[-10,0.3],[-5,0.3],[-1,0.5]];
const greenR11 = [[-100,0.8],[-97,0.5],[-93,0.5],[-89,0.1],[-84,0.2],[-80,0.7],[-77,0.3],[-75,0.5],[-71,0.2],[-65,0.1],[-60,0.2],[-56,0.4],[-50,0.1],[-45,0.2],[-40,0.5],[-37,0.8],[-34,0.6],[-29,0.3],[-27,0.4],[-22,0.2],[-18,0.6],[-15,0.5],[-12,0.4],[-10,0.3],[-5,0.3],[-1,0.4]];
const greenR12 = [[-100,1.0],[-97,0.6],[-93,0.6],[-89,0.1],[-84,0.2],[-80,0.9],[-77,0.4],[-75,0.6],[-71,0.2],[-65,0.1],[-60,0.2],[-56,0.5],[-50,0.1],[-45,0.2],[-40,0.6],[-37,0.9],[-34,0.7],[-29,0.3],[-27,0.4],[-22,0.2],[-18,0.5],[-15,0.4],[-12,0.4],[-10,0.3],[-5,0.3],[-1,0.5]];

const blueLeft  = [blueL1,blueL2,blueL3,blueL4,blueL5,blueL6,blueL7,blueL8,blueL9,blueL10,blueL11,blueL12];
const greenLeft = [greenL1,greenL2,greenL3,greenL4,greenL5,greenL6,greenL7,greenL8,greenL9,greenL10,greenL11,greenL12];
const blueRight  = [blueR1,blueR2,blueR3,blueR4,blueR5,blueR6,blueR7,blueR8,blueR9,blueR10,blueR11,blueR12];
const greenRight = [greenR1,greenR2,greenR3,greenR4,greenR5,greenR6,greenR7,greenR8,greenR9,greenR10,greenR11,greenR12];

// ---------------- layout ----------------
const fig = document.getElementById('fig');
const COLS = [{left:375, width:1057}, {left:1643, width:1057}];
const TOP0 = 240, PITCH = 98.7, AX_H = 27, GREEN_OFF = 33;
const YW = 40, PT = 6, PR = 8;
const TICK_FONT = {family:'DejaVu Sans', size:6};

const framePlugin = {
  id:'frame',
  afterDraw(chart){
    const a = chart.chartArea, c = chart.ctx;
    c.save(); c.strokeStyle = '#000'; c.lineWidth = 1.5;
    c.strokeRect(a.left, a.top, a.right - a.left, a.bottom - a.top);
    c.restore();
  }
};
const minus = s => s.replace('-', '\u2212');

function addAxes(series, color, left, top, width, height, showLabels){
  const xh = showLabels ? 24 : 6;
  const cw = YW + width + PR, ch = PT + height + xh;
  const cv = document.createElement('canvas');
  cv.width = cw; cv.height = ch;
  cv.style.left = (left - YW) + 'px'; cv.style.top = (top - PT) + 'px';
  cv.style.width = cw + 'px'; cv.style.height = ch + 'px';
  fig.appendChild(cv);
  new Chart(cv, {
    type:'line',
    data:{datasets:[{
      data: series.map(p => ({x:p[0], y:p[1]})),
      borderColor:color, backgroundColor:color, borderWidth:2,
      fill:'origin', pointRadius:0, tension:0
    }]},
    options:{
      responsive:false, animation:false, devicePixelRatio:1, events:[],
      layout:{padding:{top:PT, right:PR, bottom:0, left:0}},
      plugins:{legend:{display:false}, tooltip:{enabled:false}, title:{display:false}},
      scales:{
        x:{
          type:'linear', min:-100, max:0,
          afterBuildTicks: s => { s.ticks = xTickValues.map(v => ({value:v})); },
          afterFit: s => { s.height = xh; },
          grid:{drawOnChartArea:false, drawTicks:true, tickLength:5, color:'#000', lineWidth:1},
          border:{display:false},
          ticks:{display:showLabels, maxRotation:0, minRotation:0, autoSkip:false, padding:3, color:'#000', font:TICK_FONT,
                 callback: v => minus(String(v))}
        },
        y:{
          min:-4, max:4,
          afterBuildTicks: s => { s.ticks = yTickValues.map(v => ({value:v})); },
          afterFit: s => { s.width = YW; },
          grid:{drawOnChartArea:false, drawTicks:true, tickLength:5, color:'#000', lineWidth:1},
          border:{display:false},
          ticks:{padding:2, color:'#000', font:TICK_FONT, callback: v => minus(Number(v).toFixed(1))}
        }
      }
    },
    plugins:[framePlugin]
  });
}

function addText(cls, txt, x, y){
  const d = document.createElement('div');
  d.className = cls; d.textContent = txt;
  d.style.left = x + 'px'; d.style.top = y + 'px';
  fig.appendChild(d);
}

const columns = [
  {blue: blueLeft,  green: greenLeft,  mse: mseLeft},
  {blue: blueRight, green: greenRight, mse: mseRight}
];
columns.forEach((col, ci) => {
  const g = COLS[ci];
  for (let k = 0; k < 12; k++){
    const top = Math.round(TOP0 + PITCH * k);
    addAxes(col.blue[k], 'blue', g.left, top, g.width, AX_H, false);
    addAxes(col.green[k], 'green', g.left, top + GREEN_OFF, g.width, AX_H, true);
    addText('ttl', 'MSE : ' + col.mse[k], g.left + g.width / 2, top - 11);
    addText('off', offsetLabel, g.left + g.width, top + 86);
  }
});
</script>
</body></html>
